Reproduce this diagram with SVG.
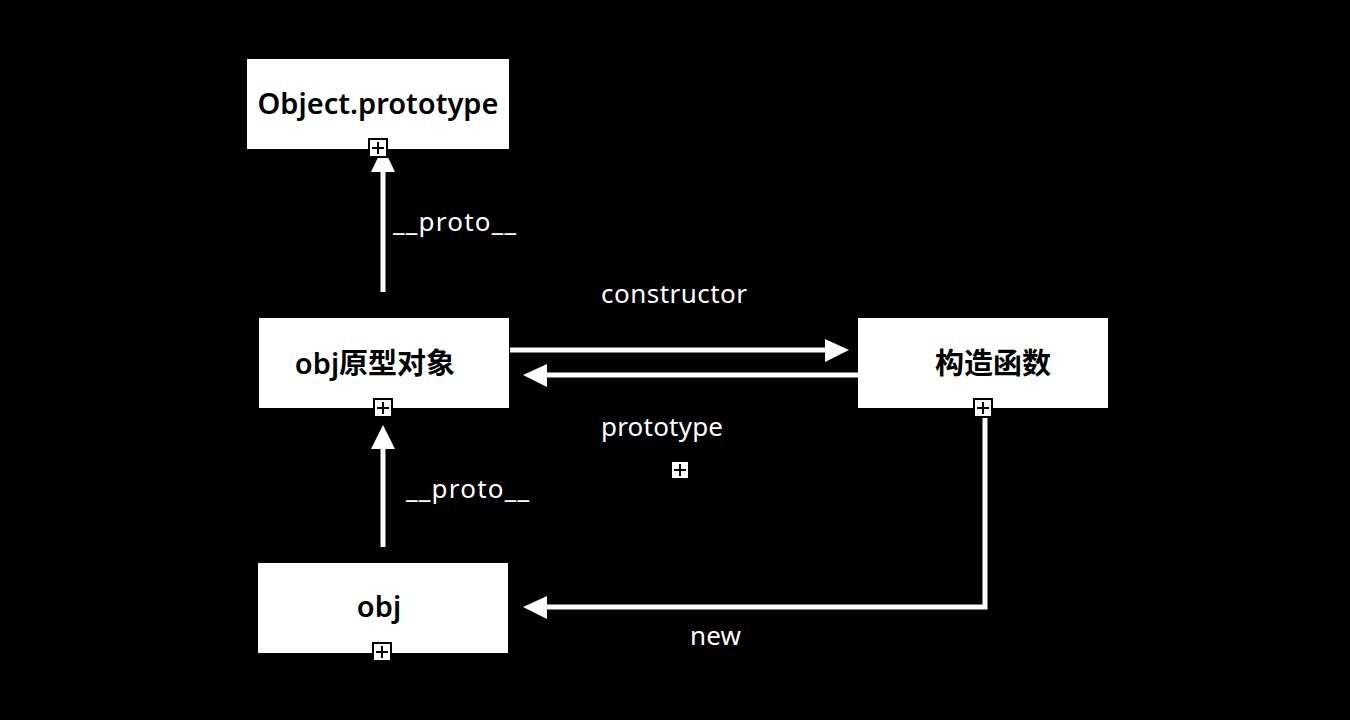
<svg xmlns="http://www.w3.org/2000/svg" width="1350" height="720" viewBox="0 0 1350 720">
<style>
.box{fill:#fff}
.bt{font-family:"Noto Sans","Noto Sans CJK SC",sans-serif;font-size:29px;font-weight:600;fill:#000;text-anchor:middle}
.lb{font-family:"Noto Sans","Noto Sans CJK SC",sans-serif;font-size:26px;fill:#fff}
.ln{fill:none;stroke:#fff;stroke-width:5}
.pl{fill:#fff;stroke:#000;stroke-width:2}
.pc{stroke:#000;stroke-width:2}
</style>
<defs>
<g id="plus"><rect class="pl" x="-9" y="-9" width="18" height="18"/><path class="pc" d="M-6 0H6M0 -6V6"/></g>
</defs>
<rect width="1350" height="720" fill="#000"/>
<g id="connectors">
<path class="ln" d="M383 292V170"/>
<polygon fill="#fff" points="383,147 395,172 371,172"/>
<path class="ln" d="M383 547V447"/>
<polygon fill="#fff" points="383,425 395,449 371,449"/>
<path class="ln" d="M510 350H827"/>
<polygon fill="#fff" points="849,350 825,339 825,362"/>
<path class="ln" d="M858 375H545"/>
<polygon fill="#fff" points="523,375 547,364 547,387"/>
<path class="ln" d="M985 410V607H545"/>
<polygon fill="#fff" points="523,607 547,596 547,619"/>
<text class="lb" x="393" y="231" textLength="123" lengthAdjust="spacing">__proto__</text>
<text class="lb" x="601" y="303" textLength="146" lengthAdjust="spacing">constructor</text>
<text class="lb" x="601" y="436" textLength="122" lengthAdjust="spacing">prototype</text>
<text class="lb" x="406" y="498" textLength="123" lengthAdjust="spacing">__proto__</text>
<text class="lb" x="690" y="645" textLength="51" lengthAdjust="spacing">new</text>
</g>
<g id="object-prototype">
<rect class="box" x="247" y="59" width="262" height="90"/>
<text class="bt" x="378" y="114">Object.prototype</text>
<use href="#plus" x="378" y="148"/>
</g>
<g id="obj-prototype">
<rect class="box" x="259" y="318" width="250" height="90"/>
<text class="bt" x="375" y="374">obj原型对象</text>
<use href="#plus" x="383" y="408"/>
</g>
<g id="constructor-fn">
<rect class="box" x="858" y="318" width="250" height="90"/>
<text class="bt" x="993" y="374">构造函数</text>
<use href="#plus" x="983" y="408"/>
</g>
<g id="obj">
<rect class="box" x="258" y="563" width="250" height="90"/>
<text class="bt" x="379" y="617">obj</text>
<use href="#plus" x="382" y="652"/>
</g>
<use href="#plus" x="680" y="470"/>
</svg>
